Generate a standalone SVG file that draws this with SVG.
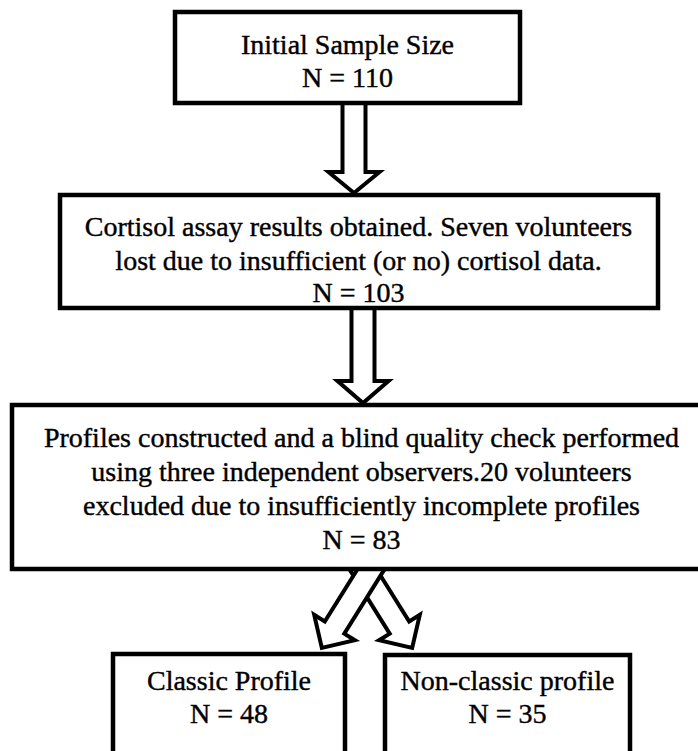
<svg xmlns="http://www.w3.org/2000/svg" width="698" height="751" viewBox="0 0 698 751">
  <style>
    .box { fill: #ffffff; stroke: #000000; stroke-width: 4.5; }
    .arrow { fill: #ffffff; stroke: #000000; stroke-width: 4; stroke-linejoin: miter; }
    text { font-family: "Liberation Serif", "Times New Roman", serif; font-size: 28px; fill: #000000; stroke: #000000; stroke-width: 0.4; text-anchor: middle; }
  </style>
  <rect width="698" height="751" fill="#ffffff"/>

  <!-- hollow block arrows between stages -->
  <g id="connectors">
    <polygon class="arrow" points="342.5,100 365.5,100 365.5,172 379.5,172 354,193 328.5,172 342.5,172"/>
    <polygon class="arrow" points="351.5,306 374.5,306 374.5,381 388.5,381 363,403 337.5,381 351.5,381"/>
    <!-- split into two outcome groups -->
    <g transform="translate(356,558) rotate(-32)">
      <polygon class="arrow" points="-11.5,0 11.5,0 11.5,82 24,82 0,106 -24,82 -11.5,82"/>
    </g>
    <g transform="translate(378,558) rotate(32)">
      <polygon class="arrow" points="-11.5,0 11.5,0 11.5,82 24,82 0,106 -24,82 -11.5,82"/>
    </g>
  </g>

  <g id="initial-sample">
    <rect class="box" x="175" y="12" width="345" height="91"/>
    <text x="347.5" y="54">Initial Sample Size</text>
    <text x="347.5" y="87">N = 110</text>
  </g>

  <g id="cortisol-assay">
    <rect class="box" x="60" y="195" width="598" height="113"/>
    <text x="358.5" y="236">Cortisol assay results obtained. Seven volunteers</text>
    <text x="358.5" y="270">lost due to insufficient (or no) cortisol data.</text>
    <text x="358.5" y="302">N = 103</text>
  </g>

  <g id="quality-check">
    <rect class="box" x="12" y="405" width="700" height="164"/>
    <text x="361.5" y="447">Profiles constructed and a blind quality check performed</text>
    <text x="361.5" y="481">using three independent observers.20 volunteers</text>
    <text x="361.5" y="515">excluded due to insufficiently incomplete profiles</text>
    <text x="361.5" y="549">N = 83</text>
  </g>

  <g id="classic-profile">
    <rect class="box" x="113" y="654" width="232" height="110"/>
    <text x="229" y="690">Classic Profile</text>
    <text x="229" y="723">N = 48</text>
  </g>

  <g id="non-classic-profile">
    <rect class="box" x="385" y="655" width="245" height="110"/>
    <text x="507.5" y="690">Non-classic profile</text>
    <text x="507.5" y="723">N = 35</text>
  </g>
</svg>
